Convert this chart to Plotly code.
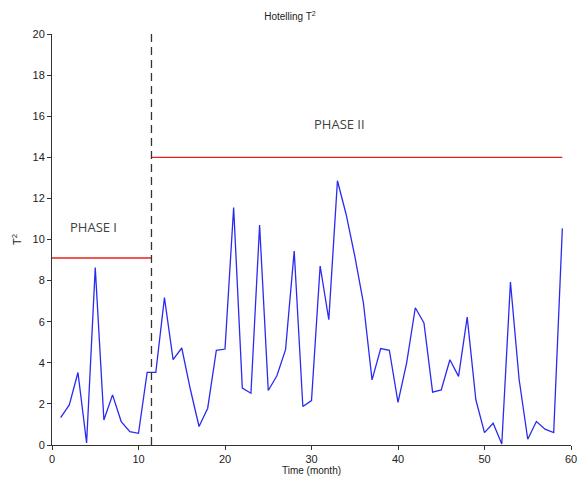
import plotly.graph_objects as go

months = list(range(1, 60))
t2_values = [1.33, 1.95, 3.53, 0.1, 8.63, 1.22, 2.44, 1.14, 0.65, 0.57,
             3.53, 3.53, 7.17, 4.15, 4.72, 2.7, 0.9, 1.79, 4.61, 4.67,
             11.56, 2.77, 2.52, 10.7, 2.65, 3.37, 4.64, 9.44, 1.87, 2.16,
             8.71, 6.1, 12.86, 11.23, 9.2, 6.92, 3.17, 4.69, 4.61, 2.07,
             4.0, 6.68, 5.94, 2.57, 2.68, 4.15, 3.34, 6.22, 2.2, 0.6,
             1.06, 0.05, 7.93, 3.2, 0.28, 1.14, 0.77, 0.6, 10.54]
phase_split = 11.5
phase1_limit = 9.1
phase2_limit = 14.0
x_end = 59

fig = go.Figure()
fig.add_trace(go.Scatter(x=months, y=t2_values, mode="lines",
                         line=dict(color="#2b2bf0", width=1.3), showlegend=False))
fig.add_trace(go.Scatter(x=[0, phase_split], y=[phase1_limit, phase1_limit], mode="lines",
                         line=dict(color="#e8201a", width=1.3), showlegend=False))
fig.add_trace(go.Scatter(x=[phase_split, x_end], y=[phase2_limit, phase2_limit], mode="lines",
                         line=dict(color="#e8201a", width=1.3), showlegend=False))
fig.add_trace(go.Scatter(x=[phase_split, phase_split], y=[0, 20], mode="lines",
                         line=dict(color="#333333", width=1.3, dash="8px,5px"), showlegend=False))

fig.add_annotation(x=4.8, y=10.6, text="PHASE I", showarrow=False,
                   font=dict(family="Open Sans, Liberation Sans", size=13, color="#3f3f3f"))
fig.add_annotation(x=33.2, y=15.6, text="PHASE II", showarrow=False,
                   font=dict(family="Open Sans, Liberation Sans", size=13, color="#3f3f3f"))

fig.update_layout(
    width=580, height=477,
    margin=dict(l=52, r=3, t=34, b=23),
    paper_bgcolor="white", plot_bgcolor="white",
    font=dict(family="Liberation Sans, Arial", size=11, color="#222222"),
    title=dict(text="Hotelling T<sup>2</sup>", x=0.5, xanchor="center", y=0.972, yanchor="top",
               font=dict(size=10, color="#222222")),
)
fig.update_xaxes(range=[0, 60], tickvals=[0, 10, 20, 30, 40, 50, 60],
                 showgrid=False, zeroline=False, showline=True, linecolor="#333333", linewidth=1,
                 ticks="outside", ticklen=4, tickcolor="#333333", ticklabeloverflow="allow",
                 title=dict(text="Time (month)", font=dict(size=10), standoff=2))
fig.update_yaxes(range=[0, 20], tickvals=list(range(0, 21, 2)),
                 showgrid=False, zeroline=False, showline=True, linecolor="#333333", linewidth=1,
                 ticks="outside", ticklen=4, tickcolor="#333333",
                 title=dict(text="T<sup>2</sup>", font=dict(size=11), standoff=8))

fig.write_html("out.html")
